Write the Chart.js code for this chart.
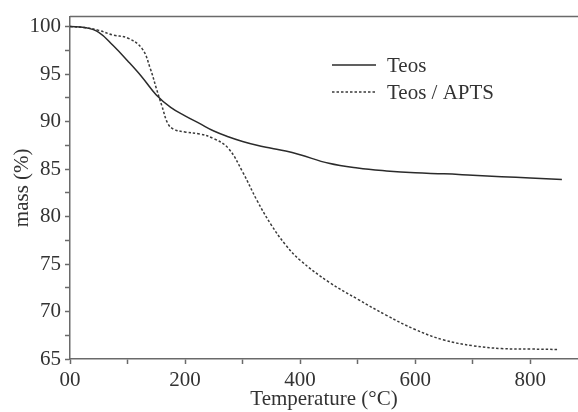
<!DOCTYPE html>
<html>
<head>
<meta charset="utf-8">
<script src="https://cdn.jsdelivr.net/npm/chart.js@4"></script>
<style>
  html, body { margin: 0; padding: 0; background: #fff; }
  #wrap { width: 578px; height: 412px; }
</style>
</head>
<body>
<div id="wrap"><canvas id="tga"></canvas></div>
<script>
// ---- Data ----
const teosTemp = [0, 25, 50, 75, 100, 125, 150, 175, 200, 225, 250, 275, 300, 325, 350, 375, 400, 450, 500, 550, 600, 650, 700, 750, 800, 855];
const teosMass = [100, 99.9, 99.4, 98.0, 96.4, 94.7, 92.8, 91.5, 90.6, 89.8, 89.0, 88.4, 87.9, 87.5, 87.2, 86.9, 86.5, 85.6, 85.1, 84.8, 84.6, 84.5, 84.35, 84.2, 84.05, 83.9];

const aptsTemp = [0, 25, 50, 75, 100, 125, 140, 150, 160, 170, 180, 200, 225, 250, 275, 300, 325, 350, 375, 400, 450, 500, 550, 600, 650, 700, 750, 800, 850];
const aptsMass = [100, 99.9, 99.6, 99.1, 98.8, 97.7, 95.5, 93.5, 91.6, 89.8, 89.2, 88.9, 88.7, 88.2, 87.2, 84.7, 81.7, 79.1, 77.0, 75.4, 73.1, 71.3, 69.6, 68.1, 67.0, 66.4, 66.1, 66.05, 66.0];

const seriesNames = ['Teos', 'Teos / APTS'];
const xTickLabels = ['00', '', '200', '', '400', '', '600', '', '800'];
const yTickLabels = { 65: '65', 70: '70', 75: '75', 80: '80', 85: '85', 90: '90', 95: '95', 100: '100' };

const SERIF = "'Liberation Serif', 'DejaVu Serif', serif";
const AXIS_COL = '#6a6a6a';
const INK = '#2b2b2b';
const TXT = '#333';

const toPts = (xs, ys) => xs.map((x, i) => ({ x, y: ys[i] }));

// ---- Legend + top frame ----
const frameAndLegend = {
  id: 'frameAndLegend',
  afterDraw(chart) {
    const { ctx, chartArea: { left, right, top } } = chart;
    ctx.save();
    ctx.strokeStyle = AXIS_COL;
    ctx.lineWidth = 1.5;
    ctx.beginPath();
    ctx.moveTo(left, top);
    ctx.lineTo(right, top);
    ctx.stroke();

    const rows = [65, 92];
    chart.data.datasets.forEach((ds, i) => {
      const y = rows[i];
      ctx.strokeStyle = ds.borderColor;
      ctx.lineWidth = ds.borderWidth;
      ctx.setLineDash(ds.borderDash || []);
      ctx.beginPath();
      ctx.moveTo(332, y);
      ctx.lineTo(376, y);
      ctx.stroke();
      ctx.setLineDash([]);
      ctx.fillStyle = TXT;
      ctx.font = '21px ' + SERIF;
      ctx.textBaseline = 'middle';
      ctx.fillText(ds.label, 387, y + 1);
    });
    ctx.restore();
  }
};

new Chart(document.getElementById('tga'), {
  type: 'line',
  data: {
    datasets: [
      {
        label: seriesNames[0],
        data: toPts(teosTemp, teosMass),
        borderColor: INK,
        borderWidth: 1.5,
        pointRadius: 0,
        tension: 0.4,
        fill: false,
      },
      {
        label: seriesNames[1],
        data: toPts(aptsTemp, aptsMass),
        borderColor: '#3a3a3a',
        borderWidth: 1.5,
        borderDash: [2.5, 2],
        pointRadius: 0,
        tension: 0.4,
        fill: false,
      }
    ]
  },
  options: {
    responsive: true,
    maintainAspectRatio: false,
    animation: false,
    layout: { padding: { top: 13, right: 0, left: 0, bottom: 0 } },
    plugins: {
      legend: { display: false },
      tooltip: { enabled: false }
    },
    scales: {
      x: {
        type: 'linear',
        min: 0, max: 883,
        afterFit: s => { s.height = 53; },
        border: { color: AXIS_COL, width: 1.5 },
        grid: { drawOnChartArea: false, tickLength: 5, color: AXIS_COL, tickWidth: 1.5 },
        ticks: {
          stepSize: 100,
          includeBounds: false,
          autoSkip: false,
          maxRotation: 0,
          padding: 4,
          color: TXT,
          font: { family: SERIF, size: 21 },
          callback: (v, i) => xTickLabels[i] ?? ''
        },
        title: {
          display: true,
          text: 'Temperature (°C)',
          color: TXT,
          font: { family: SERIF, size: 21 },
          padding: { top: 0, bottom: 0 }
        }
      },
      y: {
        min: 65, max: 101.05,
        afterFit: s => { s.width = 70; },
        border: { color: AXIS_COL, width: 1.5 },
        grid: { drawOnChartArea: false, tickLength: 5, color: AXIS_COL, tickWidth: 1.5 },
        ticks: {
          stepSize: 2.5,
          includeBounds: false,
          autoSkip: false,
          padding: 4,
          color: TXT,
          font: { family: SERIF, size: 21 },
          callback: v => yTickLabels[v] ?? ''
        },
        title: {
          display: true,
          text: 'mass (%)',
          color: TXT,
          font: { family: SERIF, size: 21 },
          padding: { top: 10, bottom: 0 }
        }
      }
    }
  },
  plugins: [frameAndLegend]
});
</script>
</body>
</html>
